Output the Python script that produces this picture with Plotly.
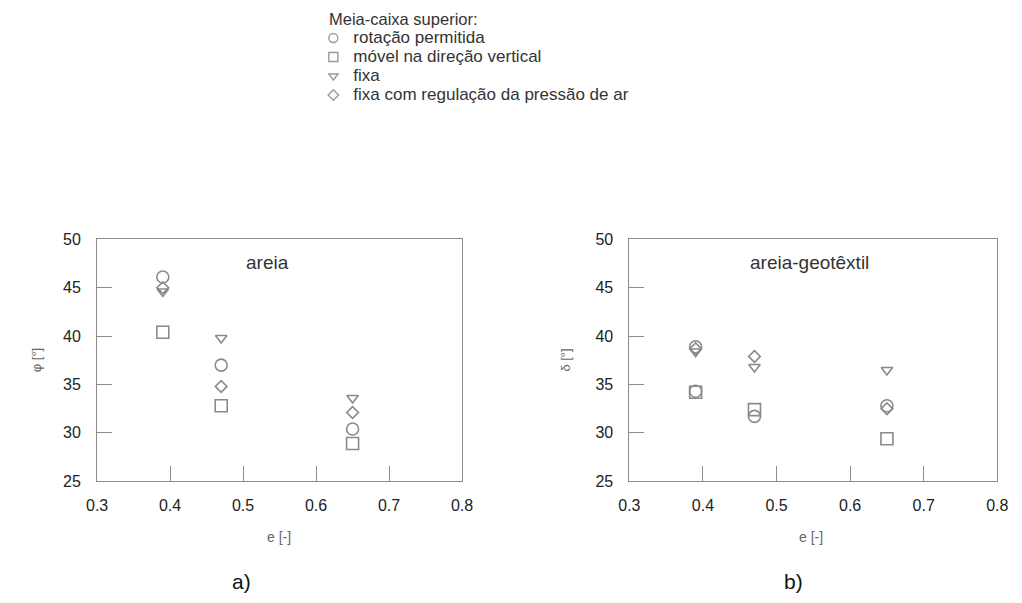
import plotly.graph_objects as go

# Void ratio e [-] tested
e_vals = [0.39, 0.47, 0.65]

# Upper half-box conditions (legend labels)
conditions = [
    "rotação permitida",
    "móvel na direção vertical",
    "fixa",
    "fixa com regulação da pressão de ar",
]
symbols = ["circle-open", "square-open", "triangle-down-open", "diamond-open"]
sizes = [12, 12, 10, 9]
legend_sizes = [9, 9, 8, 8]

# a) areia: friction angle phi [deg]
phi_rotacao = [46.1, 37.0, 30.4]
phi_movel = [40.4, 32.8, 28.9]
phi_fixa = [44.6, 39.8, 33.6]
phi_regulacao = [45.0, 34.8, 32.1]

# b) areia-geotextil: interface friction angle delta [deg]
delta_rotacao_e = [0.39, 0.39, 0.47, 0.65]
delta_rotacao = [38.9, 34.3, 31.7, 32.8]
delta_movel = [34.2, 32.4, 29.4]
delta_fixa = [38.4, 36.8, 36.5]
delta_regulacao = [38.7, 37.9, 32.5]

x_ticks = [0.3, 0.4, 0.5, 0.6, 0.7, 0.8]
y_ticks = [25, 30, 35, 40, 45, 50]

FONT = "Liberation Sans, Arial, sans-serif"
MARK = "#8a8a8a"
AXIS = "#8c8c8c"

fig = go.Figure()

left_series = [
    (e_vals, phi_rotacao),
    (e_vals, phi_movel),
    (e_vals, phi_fixa),
    (e_vals, phi_regulacao),
]
right_series = [
    (delta_rotacao_e, delta_rotacao),
    (e_vals, delta_movel),
    (e_vals, delta_fixa),
    (e_vals, delta_regulacao),
]

for axes, series in (("x", left_series), ("x2", right_series)):
    yax = "y" if axes == "x" else "y2"
    for i, (xs, ys) in enumerate(series):
        fig.add_trace(go.Scatter(
            x=xs, y=ys, mode="markers", name=conditions[i],
            marker=dict(symbol=symbols[i], size=sizes[i], color=MARK,
                        line=dict(width=1.6, color=MARK)),
            xaxis=axes, yaxis=yax, showlegend=False, legendgroup=conditions[i],
        ))

# Legend keys (smaller symbols than the data markers)
for i, name in enumerate(conditions):
    fig.add_trace(go.Scatter(
        x=[None], y=[None], mode="markers",
        name=f'<span style="font-size:17px">{name}</span>',
        marker=dict(symbol=symbols[i], size=legend_sizes[i], color="#9a9a9a",
                    line=dict(width=1.4, color="#9a9a9a")),
        legendgroup=name, showlegend=True, hoverinfo="skip",
    ))

W, H = 1022, 603
ydom = [1 - 487 / H, 1 - 238 / H]

common_x = dict(
    range=[0.3, 0.8], tickvals=x_ticks, ticktext=[f"{v:.1f}" for v in x_ticks],
    ticks="inside", ticklen=15, tickcolor=AXIS, tickwidth=1,
    showline=True, linecolor=AXIS, linewidth=1, mirror=True,
    showgrid=False, zeroline=False, ticklabelstandoff=10,
    tickfont=dict(family=FONT, size=16, color="#222"),
)
common_y = dict(
    range=[25, 50], tickvals=y_ticks,
    ticks="inside", ticklen=15, tickcolor=AXIS, tickwidth=1,
    showline=True, linecolor=AXIS, linewidth=1, mirror=True,
    showgrid=False, zeroline=False, ticklabelstandoff=12,
    tickfont=dict(family=FONT, size=16, color="#222"),
)

fig.update_layout(
    width=W, height=H,
    margin=dict(l=0, r=0, t=0, b=0),
    paper_bgcolor="white", plot_bgcolor="white",
    xaxis=dict(domain=[88 / W, 461 / W], anchor="y", **common_x),
    yaxis=dict(domain=ydom, anchor="x", **common_y),
    xaxis2=dict(domain=[632 / W, 1008 / W], anchor="y2", **common_x),
    yaxis2=dict(domain=ydom, anchor="x2", **common_y),
    legend=dict(
        x=309 / W, y=1 - 16 / H, xanchor="left", yanchor="top",
        bgcolor="rgba(0,0,0,0)", borderwidth=0,
        font=dict(family=FONT, size=12, color="#333"),
        itemsizing="trace", tracegroupgap=0,
    ),
    font=dict(family=FONT, color="#333"),
)


def label(text, x, y, size, color, xref="paper", yref="paper", angle=0):
    return dict(text=text, x=x, y=y, xref=xref, yref=yref, xanchor="center",
                yanchor="middle", textangle=angle, showarrow=False,
                font=dict(family=FONT, size=size, color=color))


annotations = [
    dict(text="Meia-caixa superior:", x=323 / W, y=1 - 11 / H, xref="paper", yref="paper",
         xanchor="left", yanchor="middle", showarrow=False,
         font=dict(family=FONT, size=16.5, color="#333")),
    label("areia", 0.533, 47.6, 19, "#333", "x", "y"),
    label("areia-geotêxtil", 0.545, 47.6, 19, "#333", "x2", "y2"),
    label("e [-]", 274 / W, 1 - 544 / H, 14, "#666"),
    label("e [-]", 818 / W, 1 - 544 / H, 14, "#666"),
    label("φ [°]", 26 / W, 1 - 362 / H, 13, "#666", angle=-90),
    label("δ [°]", 567 / W, 1 - 362 / H, 13, "#666", angle=-90),
    label("a)", 236 / W, 1 - 590 / H, 21, "#111"),
    label("b)", 800 / W, 1 - 590 / H, 21, "#111"),
]
fig.update_layout(annotations=annotations)

fig.write_html("out.html")
